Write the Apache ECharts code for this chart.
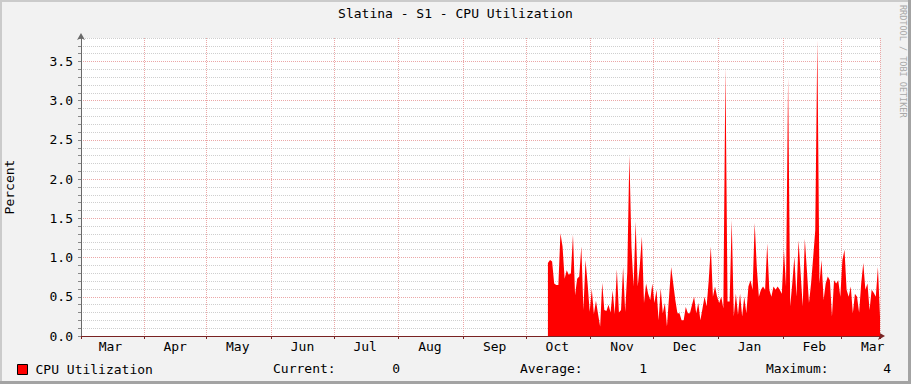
<!DOCTYPE html>
<html><head><meta charset="utf-8">
<script src="https://cdn.jsdelivr.net/npm/echarts@6/dist/echarts.min.js"></script>
<style>html,body{margin:0;padding:0;background:#f2f2f2}#c{width:911px;height:384px}</style>
</head><body><div id="c"></div>
<script>
const chartTitle = 'Slatina - S1 - CPU Utilization';
const yAxisName = 'Percent';
const seriesName = 'CPU Utilization';
const axisStart = '2014-03-01T22:30:00';
const axisEnd = '2015-03-19T12:00:00';
const firstSampleDate = '2014-10-11T12:00:00';
const monthNames = ['Jan','Feb','Mar','Apr','May','Jun','Jul','Aug','Sep','Oct','Nov','Dec'];
const statLabels = ['Current:', 'Average:', 'Maximum:'];
const statValues = ['0', '1', '4'];
const watermark = 'RRDTOOL / TOBI OETIKER';
// one sample per day, from firstSampleDate
const cpuValues = [
  0.93,0.97,0.95,0.67,0.65,0.65,1.31,1.14,0.73,0.84,
  0.78,0.80,1.29,0.52,0.73,0.76,1.14,0.33,0.97,0.67,
  0.31,0.60,0.28,0.45,0.28,0.12,0.68,0.33,0.32,0.40,
  0.30,0.58,0.28,0.85,0.30,0.33,0.88,0.31,0.82,2.31,
  1.14,0.63,1.46,0.63,0.90,1.27,0.42,0.67,0.54,0.46,
  0.67,0.42,0.59,0.20,0.61,0.29,0.42,0.12,0.50,0.88,
  0.67,0.46,0.29,0.29,0.20,0.20,0.37,0.29,0.29,0.40,
  0.50,0.29,0.42,0.20,0.35,0.50,0.38,0.71,1.14,0.50,
  0.63,0.50,0.42,0.50,0.35,3.43,0.44,0.44,1.48,0.25,
  0.54,0.27,0.54,0.25,0.50,0.29,0.63,0.71,0.59,1.44,
  0.88,0.50,0.59,0.63,0.59,1.18,0.59,0.50,0.63,0.59,
  0.63,0.59,0.54,1.10,0.63,3.30,0.38,0.67,1.01,0.50,
  1.22,0.80,0.38,1.24,0.84,0.42,0.67,1.00,1.35,3.77,
  0.67,0.97,0.46,0.67,0.76,0.71,0.25,0.71,0.67,0.71,
  0.50,0.97,1.10,0.59,0.50,0.63,0.29,0.54,0.50,0.30,
  0.67,0.93,0.59,0.67,0.33,0.59,0.55,0.50,0.88,0.25
];

const DAY = 86400000;
const t0 = new Date(firstSampleDate).getTime();
const seriesData = cpuValues.map((v, i) => [t0 + i * DAY, v]);
const xMin = new Date(axisStart).getTime();
const xMax = new Date(axisEnd).getTime();
const LABEL_SHIFT = 15 * DAY;

const FONT = 'DejaVu Sans Mono';
const MGRID = '#eba7a7';
const GRID = '#cfcfcf';
const MAJOR_EVERY = 5;
const yLineColors = [MGRID].concat(Array(MAJOR_EVERY - 1).fill(GRID));

const chart = echarts.init(document.getElementById('c'), null, {renderer: 'svg'});
chart.setOption({
  animation: false,
  backgroundColor: '#f2f2f2',
  title: {
    text: chartTitle, left: 'center', top: 7, padding: 0,
    textStyle: {fontFamily: FONT, fontSize: 13, fontWeight: 'normal', color: '#000'}
  },
  legend: {
    left: 17, top: 363, itemWidth: 10, itemHeight: 10, padding: 0,
    data: [{name: seriesName, icon: 'rect',
      itemStyle: {color: '#ff0000', borderColor: '#000', borderWidth: 1}}],
    textStyle: {fontFamily: FONT, fontSize: 13, color: '#000', padding: [0, 0, 0, 3]},
    selectedMode: false
  },
  grid: {left: 81, right: 31, top: 38, bottom: 48, show: true,
    backgroundColor: '#ffffff', borderWidth: 0,
    containLabel: false, outerBoundsMode: 'none'},
  xAxis: [{
    type: 'time', min: xMin, max: xMax,
    minInterval: 28 * DAY, maxInterval: 31 * DAY, splitNumber: 13,
    axisLine: {show: true, lineStyle: {color: '#7a2323', width: 1},
      symbol: ['none', 'arrow'], symbolSize: [6, 7], symbolOffset: [0, 5]},
    axisTick: {show: true, length: 3, lineStyle: {color: '#7a2323'}},
    axisLabel: {show: false},
    splitLine: {show: true, lineStyle: {color: MGRID, type: [1, 1], width: 1}}
  }, {
    type: 'time', min: xMin - LABEL_SHIFT, max: xMax - LABEL_SHIFT,
    minInterval: 28 * DAY, maxInterval: 31 * DAY, splitNumber: 13,
    position: 'bottom',
    axisLine: {show: false}, axisTick: {show: false}, splitLine: {show: false},
    axisLabel: {
      show: true, margin: 4, color: '#000', fontFamily: FONT, fontSize: 13,
      hideOverlap: false,
      formatter: (v) => monthNames[new Date(v).getMonth()]
    }
  }],
  yAxis: {
    type: 'value', min: 0, max: 3.8, interval: 0.1,
    name: yAxisName, nameLocation: 'middle', nameGap: 65,
    nameTextStyle: {fontFamily: FONT, fontSize: 13, color: '#000'},
    axisLine: {show: true, lineStyle: {color: '#6a6a6a', width: 1},
      symbol: ['none', 'arrow'], symbolSize: [6, 7], symbolOffset: [0, 5]},
    axisTick: {show: true, length: 3, lineStyle: {color: '#888'}},
    axisLabel: {
      color: '#000', fontFamily: FONT, fontSize: 13, margin: 8,
      formatter: (v) => {
        const m = v * 2;
        return Math.abs(m - Math.round(m)) < 1e-6 ? v.toFixed(1) : '';
      }
    },
    splitLine: {show: true, lineStyle: {color: yLineColors, type: [1, 1], width: 1}}
  },
  series: [{
    name: seriesName, type: 'line', xAxisIndex: 0, data: seriesData,
    showSymbol: false, symbol: 'none',
    lineStyle: {width: 0, color: '#ff0000'},
    itemStyle: {color: '#ff0000'},
    areaStyle: {color: '#ff0000', opacity: 1}
  }],
  graphic: [
    {type: 'rect', shape: {x: 0, y: 0, width: 911, height: 2}, style: {fill: '#cbcbcb'}, silent: true},
    {type: 'rect', shape: {x: 0, y: 0, width: 2, height: 384}, style: {fill: '#cbcbcb'}, silent: true},
    {type: 'rect', shape: {x: 908, y: 0, width: 3, height: 384}, style: {fill: '#a3a3a3'}, silent: true},
    {type: 'rect', shape: {x: 0, y: 381, width: 911, height: 3}, style: {fill: '#a3a3a3'}, silent: true},
    {type: 'text', x: 903, y: 5, rotation: -Math.PI / 2,
      style: {text: watermark, fontFamily: FONT, fontSize: 8.5, fill: '#a8a8a8',
        align: 'left', verticalAlign: 'middle'}},
    {type: 'text', x: 273, y: 368, style: {text: statLabels[0], fontFamily: FONT, fontSize: 13, fill: '#000', align: 'left', verticalAlign: 'middle'}},
    {type: 'text', x: 400, y: 368, style: {text: statValues[0], fontFamily: FONT, fontSize: 13, fill: '#000', align: 'right', verticalAlign: 'middle'}},
    {type: 'text', x: 520, y: 368, style: {text: statLabels[1], fontFamily: FONT, fontSize: 13, fill: '#000', align: 'left', verticalAlign: 'middle'}},
    {type: 'text', x: 647, y: 368, style: {text: statValues[1], fontFamily: FONT, fontSize: 13, fill: '#000', align: 'right', verticalAlign: 'middle'}},
    {type: 'text', x: 766, y: 368, style: {text: statLabels[2], fontFamily: FONT, fontSize: 13, fill: '#000', align: 'left', verticalAlign: 'middle'}},
    {type: 'text', x: 891, y: 368, style: {text: statValues[2], fontFamily: FONT, fontSize: 13, fill: '#000', align: 'right', verticalAlign: 'middle'}}
  ]
});
</script></body></html>
